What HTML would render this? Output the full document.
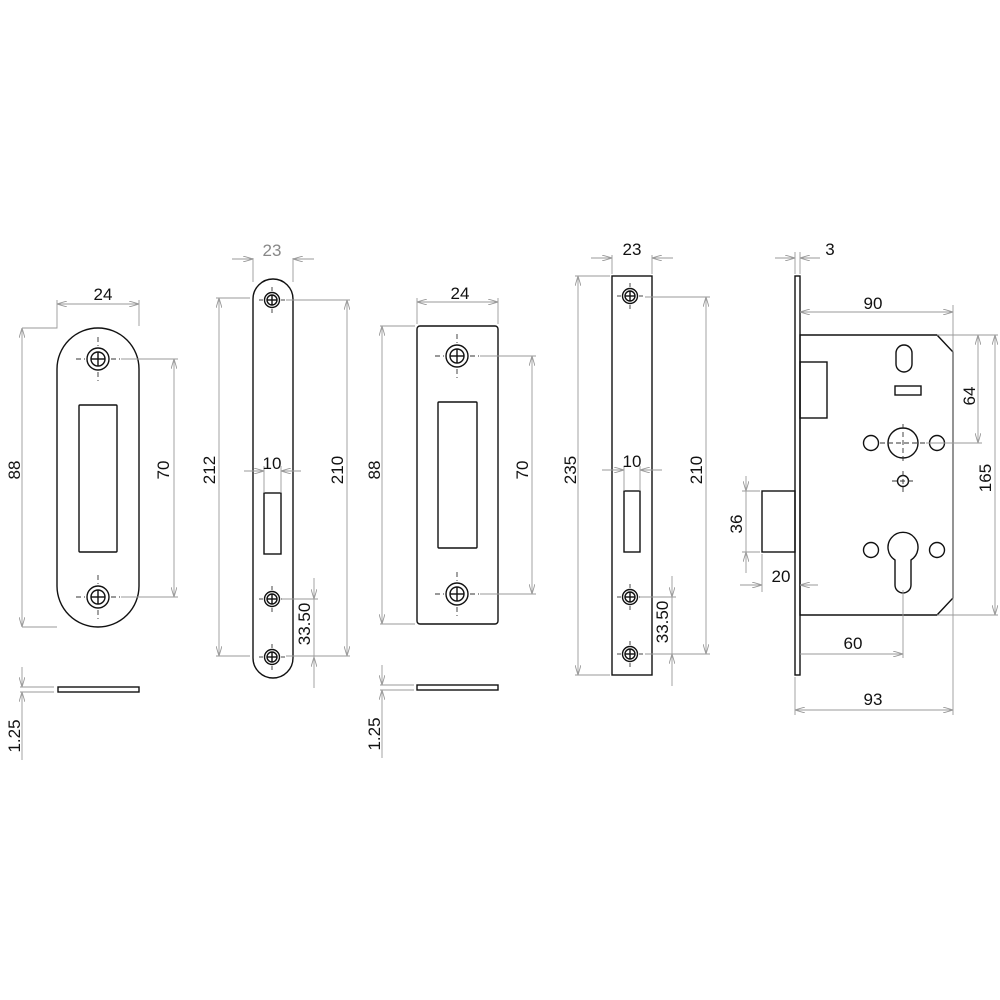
<!DOCTYPE html>
<html><head><meta charset="utf-8"><style>
html,body{margin:0;padding:0;background:#fff}
svg{display:block}
text{font-family:"Liberation Sans",sans-serif;font-size:17px;fill:#111}
.o{fill:none;stroke:#111;stroke-width:1.4}
.d{fill:none;stroke:#999;stroke-width:0.9}
.c{fill:none;stroke:#333;stroke-width:0.9;stroke-dasharray:5 3}
</style></head><body>
<svg width="1000" height="1000" viewBox="0 0 1000 1000" xmlns="http://www.w3.org/2000/svg">
<defs>
<marker id="a" viewBox="0 0 10 6" refX="10" refY="3" markerWidth="10" markerHeight="6" orient="auto-start-reverse" markerUnits="userSpaceOnUse"><path d="M0,0 L10,3 L0,6" fill="none" stroke="#999" stroke-width="0.9"/></marker>
<g id="h"><circle r="11" class="o"/><circle r="7" class="o"/><line x1="-7" y1="0" x2="7" y2="0" class="o" stroke-width="0.8"/><line x1="0" y1="-7" x2="0" y2="7" class="o" stroke-width="0.8"/><line x1="-22" y1="0" x2="-13" y2="0" class="c"/><line x1="13" y1="0" x2="22" y2="0" class="c"/><line x1="0" y1="-22" x2="0" y2="-13" class="c"/><line x1="0" y1="13" x2="0" y2="22" class="c"/></g>
<g id="s"><circle r="7.5" class="o"/><circle r="5" class="o"/><line x1="-5" y1="0" x2="5" y2="0" class="o" stroke-width="0.8"/><line x1="0" y1="-5" x2="0" y2="5" class="o" stroke-width="0.8"/><line x1="-13" y1="0" x2="-9" y2="0" class="c"/><line x1="9" y1="0" x2="13" y2="0" class="c"/><line x1="0" y1="-13" x2="0" y2="-9" class="c"/><line x1="0" y1="9" x2="0" y2="13" class="c"/></g>
</defs>

<!-- PART 1 -->
<rect x="57" y="328" width="82" height="299" rx="41" class="o"/>
<rect x="79" y="405" width="38" height="147" rx="1" class="o"/>
<use href="#h" x="98" y="359"/><use href="#h" x="98" y="597"/>
<polyline points="22,328 57,328 57,300" class="d"/><line x1="139" y1="300" x2="139" y2="326" class="d"/>
<line x1="57" y1="304" x2="139" y2="304" class="d" marker-start="url(#a)" marker-end="url(#a)"/>
<text x="103" y="300" text-anchor="middle">24</text>
<line x1="22" y1="627" x2="57" y2="627" class="d"/>
<line x1="22" y1="328" x2="22" y2="627" class="d" marker-start="url(#a)" marker-end="url(#a)"/>
<text transform="translate(20,470) rotate(-90)" text-anchor="middle">88</text>
<line x1="121" y1="359" x2="178" y2="359" class="d"/><line x1="121" y1="597" x2="178" y2="597" class="d"/>
<line x1="174" y1="359" x2="174" y2="597" class="d" marker-start="url(#a)" marker-end="url(#a)"/>
<text transform="translate(169,470) rotate(-90)" text-anchor="middle">70</text>
<rect x="58" y="687" width="81" height="5" class="o" stroke-width="1"/>
<line x1="22" y1="667" x2="22" y2="687" class="d" marker-end="url(#a)"/><line x1="22" y1="692" x2="22" y2="760" class="d" marker-start="url(#a)"/>
<line x1="20" y1="687" x2="54" y2="687" class="d"/><line x1="20" y1="692" x2="54" y2="692" class="d"/>
<text transform="translate(20,736) rotate(-90)" text-anchor="middle">1.25</text>

<!-- PART 2 -->
<rect x="253" y="279" width="40" height="399" rx="20" class="o"/>
<rect x="264" y="493" width="17" height="61" class="o"/>
<use href="#s" x="272" y="300"/><use href="#s" x="272" y="599"/><use href="#s" x="272" y="657"/>
<line x1="253" y1="258" x2="253" y2="282" class="d"/><line x1="293" y1="258" x2="293" y2="282" class="d"/>
<line x1="232" y1="259" x2="253" y2="259" class="d" marker-end="url(#a)"/><line x1="293" y1="259" x2="314" y2="259" class="d" marker-start="url(#a)"/>
<text x="272" y="256" text-anchor="middle" style="fill:#888">23</text>
<line x1="216" y1="298" x2="250" y2="298" class="d"/><line x1="216" y1="656" x2="250" y2="656" class="d"/>
<line x1="219" y1="298" x2="219" y2="656" class="d" marker-start="url(#a)" marker-end="url(#a)"/>
<text transform="translate(215,470) rotate(-90)" text-anchor="middle">212</text>
<line x1="286" y1="300" x2="350" y2="300" class="d"/><line x1="286" y1="656" x2="350" y2="656" class="d"/>
<line x1="347" y1="300" x2="347" y2="656" class="d" marker-start="url(#a)" marker-end="url(#a)"/>
<text transform="translate(343,470) rotate(-90)" text-anchor="middle">210</text>
<line x1="264" y1="466" x2="264" y2="493" class="d"/><line x1="281" y1="466" x2="281" y2="493" class="d"/>
<line x1="244" y1="471" x2="264" y2="471" class="d" marker-end="url(#a)"/><line x1="281" y1="471" x2="301" y2="471" class="d" marker-start="url(#a)"/>
<text x="272" y="469" text-anchor="middle">10</text>
<line x1="282" y1="599" x2="318" y2="599" class="d"/>
<line x1="314" y1="578" x2="314" y2="599" class="d" marker-end="url(#a)"/><line x1="314" y1="657" x2="314" y2="688" class="d" marker-start="url(#a)"/>
<line x1="314" y1="599" x2="314" y2="657" class="d"/>
<text transform="translate(310,624) rotate(-90)" text-anchor="middle">33.50</text>

<!-- PART 3 -->
<rect x="417" y="326" width="81" height="298" rx="3" class="o"/>
<rect x="438" y="402" width="39" height="146" rx="1" class="o"/>
<use href="#h" x="457" y="356"/><use href="#h" x="457" y="594"/>
<line x1="417" y1="298" x2="417" y2="324" class="d"/><line x1="498" y1="298" x2="498" y2="324" class="d"/>
<line x1="417" y1="302" x2="498" y2="302" class="d" marker-start="url(#a)" marker-end="url(#a)"/>
<text x="460" y="299" text-anchor="middle">24</text>
<line x1="380" y1="326" x2="415" y2="326" class="d"/><line x1="380" y1="624" x2="415" y2="624" class="d"/>
<line x1="382" y1="326" x2="382" y2="624" class="d" marker-start="url(#a)" marker-end="url(#a)"/>
<text transform="translate(380,470) rotate(-90)" text-anchor="middle">88</text>
<line x1="480" y1="356" x2="536" y2="356" class="d"/><line x1="480" y1="594" x2="536" y2="594" class="d"/>
<line x1="532" y1="356" x2="532" y2="594" class="d" marker-start="url(#a)" marker-end="url(#a)"/>
<text transform="translate(528,470) rotate(-90)" text-anchor="middle">70</text>
<rect x="417" y="685" width="81" height="5" class="o" stroke-width="1"/>
<line x1="382" y1="665" x2="382" y2="685" class="d" marker-end="url(#a)"/><line x1="382" y1="690" x2="382" y2="758" class="d" marker-start="url(#a)"/>
<line x1="380" y1="685" x2="414" y2="685" class="d"/><line x1="380" y1="690" x2="414" y2="690" class="d"/>
<text transform="translate(380,734) rotate(-90)" text-anchor="middle">1.25</text>

<!-- PART 4 -->
<rect x="612" y="276" width="40" height="399" class="o"/>
<rect x="624" y="491" width="16" height="61" class="o"/>
<use href="#s" x="630" y="296"/><use href="#s" x="630" y="597"/><use href="#s" x="630" y="654"/>
<line x1="612" y1="255" x2="612" y2="274" class="d"/><line x1="652" y1="255" x2="652" y2="274" class="d"/>
<line x1="591" y1="258" x2="612" y2="258" class="d" marker-end="url(#a)"/><line x1="652" y1="258" x2="673" y2="258" class="d" marker-start="url(#a)"/>
<text x="632" y="255" text-anchor="middle">23</text>
<line x1="575" y1="276" x2="610" y2="276" class="d"/><line x1="575" y1="675" x2="610" y2="675" class="d"/>
<line x1="578" y1="276" x2="578" y2="675" class="d" marker-start="url(#a)" marker-end="url(#a)"/>
<text transform="translate(576,470) rotate(-90)" text-anchor="middle">235</text>
<line x1="645" y1="297" x2="710" y2="297" class="d"/><line x1="645" y1="654" x2="710" y2="654" class="d"/>
<line x1="706" y1="297" x2="706" y2="654" class="d" marker-start="url(#a)" marker-end="url(#a)"/>
<text transform="translate(702,470) rotate(-90)" text-anchor="middle">210</text>
<line x1="624" y1="466" x2="624" y2="491" class="d"/><line x1="640" y1="466" x2="640" y2="491" class="d"/>
<line x1="602" y1="470" x2="624" y2="470" class="d" marker-end="url(#a)"/><line x1="640" y1="470" x2="662" y2="470" class="d" marker-start="url(#a)"/>
<text x="632" y="467" text-anchor="middle">10</text>
<line x1="640" y1="597" x2="676" y2="597" class="d"/>
<line x1="672" y1="576" x2="672" y2="597" class="d" marker-end="url(#a)"/><line x1="672" y1="654" x2="672" y2="686" class="d" marker-start="url(#a)"/>
<line x1="672" y1="597" x2="672" y2="654" class="d"/>
<text transform="translate(668,622) rotate(-90)" text-anchor="middle">33.50</text>

<!-- PART 5: lock body -->
<rect x="795" y="276" width="5" height="399" class="o"/>
<polygon points="800,335 937,335 953,352 953,598 937,615 800,615" class="o"/>
<rect x="800" y="362" width="27" height="56" class="o"/>
<rect x="762" y="491" width="33" height="61" class="o"/>
<rect x="896" y="345" width="16" height="27" rx="8" class="o"/>
<rect x="895" y="386" width="26" height="9" class="o"/>
<circle cx="903" cy="443" r="15" class="o"/>
<line x1="880" y1="443" x2="926" y2="443" class="c"/><line x1="903" y1="424" x2="903" y2="462" class="c"/>
<ellipse cx="871" cy="443" rx="7.5" ry="7.5" class="o"/><ellipse cx="937" cy="443" rx="7.5" ry="7.5" class="o"/>
<circle cx="903" cy="481" r="5.5" class="o"/>
<line x1="892" y1="481" x2="914" y2="481" class="c" stroke-dasharray="3 2"/><line x1="903" y1="471" x2="903" y2="492" class="c" stroke-dasharray="3 2"/>
<path d="M895,560 A15,15 0 1 1 911,560 L911,585 A8,8 0 0 1 895,585 Z" class="o"/>
<ellipse cx="871" cy="550" rx="7.5" ry="7.5" class="o"/><ellipse cx="937" cy="550" rx="7.5" ry="7.5" class="o"/>
<!-- dims -->
<line x1="795" y1="252" x2="795" y2="274" class="d"/><line x1="800" y1="252" x2="800" y2="274" class="d"/>
<line x1="775" y1="258" x2="795" y2="258" class="d" marker-end="url(#a)"/><line x1="800" y1="258" x2="820" y2="258" class="d" marker-start="url(#a)"/>
<text x="830" y="255" text-anchor="middle">3</text>
<line x1="953" y1="305" x2="953" y2="715" class="d"/>
<line x1="800" y1="312" x2="953" y2="312" class="d" marker-start="url(#a)" marker-end="url(#a)"/>
<text x="873" y="309" text-anchor="middle">90</text>
<line x1="937" y1="335" x2="998" y2="335" class="d"/><line x1="926" y1="443" x2="982" y2="443" class="d"/><line x1="937" y1="615" x2="998" y2="615" class="d"/>
<line x1="978" y1="335" x2="978" y2="443" class="d" marker-start="url(#a)" marker-end="url(#a)"/>
<text transform="translate(975,396) rotate(-90)" text-anchor="middle">64</text>
<line x1="995" y1="335" x2="995" y2="615" class="d" marker-start="url(#a)" marker-end="url(#a)"/>
<text transform="translate(991,478) rotate(-90)" text-anchor="middle">165</text>
<line x1="742" y1="491" x2="760" y2="491" class="d"/><line x1="742" y1="552" x2="760" y2="552" class="d"/>
<line x1="746" y1="476" x2="746" y2="491" class="d" marker-end="url(#a)"/><line x1="746" y1="552" x2="746" y2="573" class="d" marker-start="url(#a)"/>
<line x1="746" y1="491" x2="746" y2="552" class="d"/>
<text transform="translate(742,524) rotate(-90)" text-anchor="middle">36</text>
<line x1="762" y1="554" x2="762" y2="592" class="d"/>
<line x1="740" y1="585" x2="762" y2="585" class="d" marker-end="url(#a)"/><line x1="800" y1="585" x2="818" y2="585" class="d" marker-start="url(#a)"/>
<text x="781" y="582" text-anchor="middle">20</text>
<line x1="903" y1="590" x2="903" y2="658" class="d"/>
<line x1="800" y1="654" x2="903" y2="654" class="d" marker-end="url(#a)"/>
<text x="853" y="649" text-anchor="middle">60</text>
<line x1="795" y1="677" x2="795" y2="715" class="d"/>
<line x1="795" y1="710" x2="953" y2="710" class="d" marker-start="url(#a)" marker-end="url(#a)"/>
<text x="873" y="705" text-anchor="middle">93</text>
</svg>
</body></html>
